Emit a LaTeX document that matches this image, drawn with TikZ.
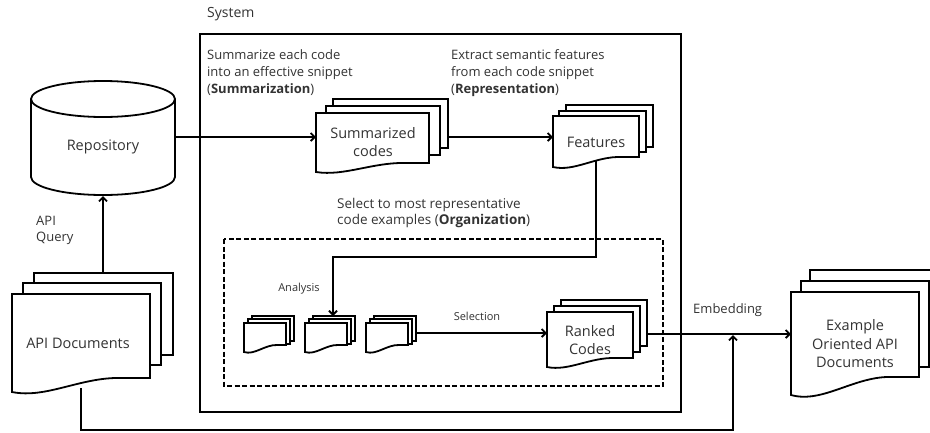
\documentclass[tikz,border=0pt]{standalone}
\usepackage{fontspec}
\setmainfont{Open Sans}
\usetikzlibrary{arrows.meta}
\tikzset{
  ln/.style={line width=1.8pt, black},
  arr/.style={ln, -{Straight Barb[length=4pt,width=8pt]}},
  doc/.style={line width=1.8pt, draw=black, fill=white, line join=miter},
  txt/.style={inner sep=0pt, text=black!80, font=\fontsize{13}{17}\selectfont, align=center},
  txtl/.style={txt, align=left},
  lbl/.style={txt, font=\fontsize{14.5}{18.5}\selectfont},
  small/.style={inner sep=0pt, text=black!80, font=\fontsize{11}{13}\selectfont},
}
\newcommand{\pagefront}[5]{%
  \filldraw[doc] (#1,#2) -- ({#1+#3},#2) -- ({#1+#3},{#2+#4-#5}) -- ({#1+0.8*#3},{#2+#4-#5})
   .. controls ({#1+0.5*#3},{#2+#4-1.1*#5}) and ({#1+0.25*#3},{#2+#4+0.5*#5}) .. (#1,{#2+#4}) -- cycle;}
\newcommand{\pageback}[4]{%
  \filldraw[doc] (#1,#2) rectangle ({#1+#3},#4);}
\newcommand{\smallstack}[1]{%
  \pageback{#1+8}{316}{42}{341}
  \pageback{#1+4}{319}{42}{344}
  \pagefront{#1}{323}{42}{29}{7}}
\begin{document}
\begin{tikzpicture}[x=1pt,y=-1pt]
\useasboundingbox (0,0) rectangle (930,432);
\fill[white] (0,0) rectangle (930,432);

% system and organization boxes
\draw[ln] (200,34) rectangle (681,412);
\draw[line width=1.6pt, dash pattern=on 5pt off 2.5pt] (224,239) rectangle (663,386);

% connection points
\coordinate (repoR) at (175,137);
\coordinate (repoB) at (103,196);
\coordinate (apiT) at (103,273);
\coordinate (apiB) at (81,388);
\coordinate (sumL) at (316,137);
\coordinate (sumR) at (448,137);
\coordinate (featL) at (553,137);
\coordinate (featB) at (596,160);
\coordinate (anaT) at (333,316);
\coordinate (s3R) at (416,333);
\coordinate (rankL) at (547,333);
\coordinate (rankR) at (647,334);
\coordinate (exL) at (791,334);
\coordinate (embB) at (733,335);

% connectors
\draw[arr] (repoR) -- (sumL);
\draw[arr] (sumR) -- (featL);
\draw[arr] (featB) -- (596,257) -| (anaT);
\draw[arr] (s3R) -- (rankL);
\draw[arr] (rankR) -- (exL);
\draw[arr] (apiT) -- (repoB);
\draw[arr] (apiB) -- (81,430) -| (embB);

% repository cylinder
\filldraw[doc] (31,99) -- (31,177) arc[start angle=180,end angle=0,x radius=72,y radius=18] -- (175,99);
\draw[doc] (103,99) ellipse[x radius=72,y radius=18];

% API documents
\pageback{34}{273}{139}{355}
\pageback{23}{283}{138}{365}
\pagefront{12}{294}{138}{98}{14}

% summarized codes
\pageback{333}{99}{115}{148}
\pageback{326}{106}{114}{155}
\pagefront{316}{113}{113}{59}{9}

% features
\pageback{566}{105}{87}{147}
\pageback{559}{111}{87}{152}
\pagefront{553}{116}{86}{51}{10}

% small stacks
\smallstack{244}
\smallstack{305}
\smallstack{366}

% ranked codes
\pageback{561}{300}{86}{346}
\pageback{554}{306}{86}{352}
\pagefront{547}{312}{86}{55}{9}

% example oriented API documents
\pageback{810}{270}{128}{355}
\pageback{801}{281}{128}{367}
\pagefront{791}{292}{128}{103}{18}

% texts
\node[txt, anchor=west, font=\fontsize{14}{16}\selectfont] (sys) at (207,14) {System};
\node[lbl] (repo) at (103,147) {Repository};
\node[txtl, anchor=west, font=\fontsize{13}{16}\selectfont] (query) at (36,230) {API\\Query};
\node[lbl] (api) at (78,343) {API Documents};
\node[txtl, anchor=north west] (sumtxt) at (207,49) {Summarize each code\\into an effective snippet\\(\textbf{Summarization})};
\node[txtl, anchor=north west] (reptxt) at (451,49) {Extract semantic features\\from each code snippet\\(\textbf{Representation})};
\node[lbl] (sum) at (373,142) {Summarized\\codes};
\node[lbl] (feat) at (596,142) {Features};
\node[txtl, anchor=north west, font=\fontsize{13.5}{16.5}\selectfont] (orgtxt) at (337,198) {Select to most representative\\code examples (\textbf{Organization})};
\node[small] (ana) at (299,289) {Analysis};
\node[small] (sel) at (477,316) {Selection};
\node[lbl] (rank) at (590,340) {Ranked\\Codes};
\node[txt, anchor=west] (emb) at (693,310) {Embedding};
\node[lbl] (ex) at (855,344) {Example\\Oriented API\\Documents};
\end{tikzpicture}
\end{document}
